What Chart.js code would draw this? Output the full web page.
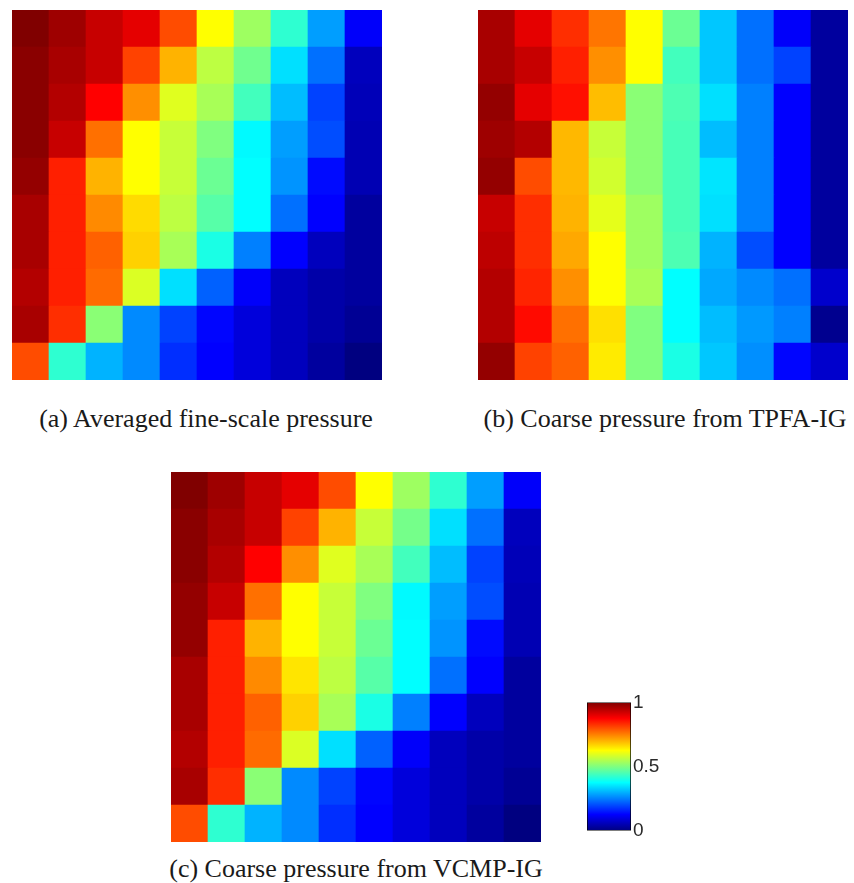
<!DOCTYPE html>
<html lang="en">
<head>
  <meta charset="UTF-8" />
  <title>coarse pressure maps</title>
  <script src="https://cdn.jsdelivr.net/npm/chart.js"></script>
  <style>
    body {
      margin: 0;
      background: #fff;
      width: 854px;
      height: 883px;
      position: relative;
      overflow: hidden;
    }
    .panel { position: absolute; }
    .caption {
      position: absolute;
      width: 440px;
      text-align: center;
      font-family: 'Liberation Serif', 'Times New Roman', serif;
      font-size: 26px;
      line-height: 26px;
      color: #1a1a1a;
      white-space: nowrap;
    }
  </style>
</head>
<body>
  <div class="panel" style="left:12px; top:10px; width:370px; height:370px;"><canvas id="mapA"></canvas></div>
  <div class="panel" style="left:478px; top:10px; width:370px; height:370px;"><canvas id="mapB"></canvas></div>
  <div class="panel" style="left:171px; top:472px; width:370px; height:370px;"><canvas id="mapC"></canvas></div>
  <div class="panel" style="left:587px; top:689px; width:88px; height:155px;"><canvas id="colorbar"></canvas></div>

  <div class="caption" style="left:-14px; top:406px;">(a) Averaged fine-scale pressure</div>
  <div class="caption" style="left:445px; top:406px;">(b) Coarse pressure from TPFA-IG</div>
  <div class="caption" style="left:136px; top:856px;">(c) Coarse pressure from VCMP-IG</div>

  <script>
    // cell values, top row first, 10 columns left to right
    const columns = ['1', '2', '3', '4', '5', '6', '7', '8', '9', '10'];

    const pressureA = [
      [1.00, 0.97, 0.93, 0.90, 0.80, 0.625, 0.53, 0.42, 0.28, 0.12],
      [0.99, 0.96, 0.93, 0.81, 0.70, 0.56, 0.485, 0.345, 0.235, 0.06],
      [0.99, 0.95, 0.875, 0.735, 0.595, 0.54, 0.44, 0.31, 0.19, 0.055],
      [0.99, 0.93, 0.765, 0.625, 0.57, 0.50, 0.37, 0.28, 0.20, 0.05],
      [0.98, 0.845, 0.70, 0.625, 0.57, 0.48, 0.375, 0.27, 0.135, 0.05],
      [0.96, 0.845, 0.74, 0.66, 0.56, 0.46, 0.375, 0.235, 0.125, 0.03],
      [0.96, 0.845, 0.78, 0.67, 0.54, 0.40, 0.25, 0.125, 0.06, 0.03],
      [0.95, 0.845, 0.77, 0.59, 0.345, 0.22, 0.12, 0.06, 0.04, 0.03],
      [0.96, 0.83, 0.51, 0.26, 0.19, 0.13, 0.09, 0.06, 0.04, 0.02],
      [0.80, 0.42, 0.30, 0.26, 0.17, 0.125, 0.09, 0.06, 0.03, 0.00]
    ];

    const pressureB = [
      [0.96, 0.90, 0.83, 0.76, 0.625, 0.48, 0.32, 0.235, 0.12, 0.03],
      [0.96, 0.93, 0.845, 0.735, 0.625, 0.44, 0.32, 0.235, 0.19, 0.03],
      [0.98, 0.90, 0.86, 0.69, 0.51, 0.45, 0.345, 0.25, 0.125, 0.03],
      [0.97, 0.95, 0.695, 0.57, 0.51, 0.445, 0.31, 0.25, 0.125, 0.03],
      [0.98, 0.80, 0.695, 0.58, 0.51, 0.445, 0.35, 0.25, 0.125, 0.03],
      [0.93, 0.83, 0.70, 0.60, 0.53, 0.445, 0.345, 0.25, 0.125, 0.03],
      [0.94, 0.83, 0.71, 0.625, 0.53, 0.45, 0.30, 0.20, 0.125, 0.03],
      [0.95, 0.84, 0.735, 0.625, 0.54, 0.375, 0.29, 0.26, 0.235, 0.075],
      [0.95, 0.865, 0.765, 0.655, 0.50, 0.375, 0.31, 0.275, 0.25, 0.015],
      [0.98, 0.81, 0.78, 0.645, 0.50, 0.40, 0.32, 0.265, 0.13, 0.075]
    ];

    const pressureC = [
      [1.00, 0.97, 0.93, 0.90, 0.80, 0.625, 0.53, 0.42, 0.28, 0.12],
      [0.99, 0.96, 0.93, 0.81, 0.70, 0.57, 0.49, 0.345, 0.235, 0.06],
      [0.99, 0.95, 0.875, 0.735, 0.595, 0.54, 0.44, 0.31, 0.19, 0.055],
      [0.98, 0.93, 0.765, 0.625, 0.57, 0.50, 0.37, 0.28, 0.20, 0.05],
      [0.98, 0.845, 0.70, 0.625, 0.57, 0.48, 0.375, 0.27, 0.135, 0.05],
      [0.96, 0.845, 0.74, 0.65, 0.56, 0.46, 0.375, 0.235, 0.125, 0.03],
      [0.96, 0.845, 0.78, 0.67, 0.54, 0.40, 0.25, 0.125, 0.06, 0.03],
      [0.95, 0.845, 0.77, 0.59, 0.345, 0.22, 0.12, 0.06, 0.04, 0.03],
      [0.96, 0.83, 0.51, 0.26, 0.19, 0.13, 0.09, 0.06, 0.04, 0.02],
      [0.80, 0.42, 0.30, 0.26, 0.17, 0.125, 0.09, 0.06, 0.03, 0.00]
    ];

    const colorbarTicks = [0, 0.5, 1];

    // matlab style jet colormap
    function jet(v) {
      const c = x => Math.round(255 * Math.max(0, Math.min(1, x)));
      const r = c(Math.min(4 * v - 1.5, -4 * v + 4.5));
      const g = c(Math.min(4 * v - 0.5, -4 * v + 3.5));
      const b = c(Math.min(4 * v + 0.5, -4 * v + 2.5));
      return `rgb(${r},${g},${b})`;
    }

    Chart.defaults.animation = false;
    Chart.defaults.plugins.legend.display = false;
    Chart.defaults.plugins.tooltip.enabled = false;

    function heatmap(id, grid) {
      // stacked bars: first dataset is the bottom row
      const datasets = grid.slice().reverse().map(row => ({
        data: row.map(() => 1),
        backgroundColor: row.map(jet),
        borderWidth: 0,
        barPercentage: 1,
        categoryPercentage: 1
      }));
      return new Chart(document.getElementById(id), {
        type: 'bar',
        data: { labels: columns, datasets },
        options: {
          responsive: true,
          maintainAspectRatio: false,
          layout: { padding: 0 },
          scales: {
            x: { display: false, stacked: true },
            y: { display: false, stacked: true, min: 0, max: grid.length }
          }
        }
      });
    }

    heatmap('mapA', pressureA);
    heatmap('mapB', pressureB);
    heatmap('mapC', pressureC);

    new Chart(document.getElementById('colorbar'), {
      type: 'bar',
      data: {
        labels: [''],
        datasets: [{
          data: [1],
          backgroundColor: ctx => {
            const area = ctx.chart.chartArea;
            if (!area) return '#888';
            const g = ctx.chart.ctx.createLinearGradient(0, area.bottom, 0, area.top);
            [0, 0.125, 0.375, 0.625, 0.875, 1].forEach(s => g.addColorStop(s, jet(s)));
            return g;
          },
          borderColor: '#000',
          borderWidth: 1,
          borderSkipped: false,
          barPercentage: 1,
          categoryPercentage: 1
        }]
      },
      options: {
        responsive: true,
        maintainAspectRatio: false,
        layout: { padding: { top: 10, bottom: 10, left: 0, right: 0 } },
        scales: {
          x: { display: false },
          y: {
            position: 'right',
            min: 0,
            max: 1,
            afterBuildTicks: axis => { axis.ticks = colorbarTicks.map(v => ({ value: v })); },
            afterFit: axis => { axis.width = 44; },
            ticks: {
              padding: 2,
              color: '#2a2a2a',
              font: { family: 'Liberation Sans', size: 19 },
              callback: v => String(v)
            },
            grid: { display: false, drawTicks: false },
            border: { display: false }
          }
        }
      }
    });
  </script>
</body>
</html>
